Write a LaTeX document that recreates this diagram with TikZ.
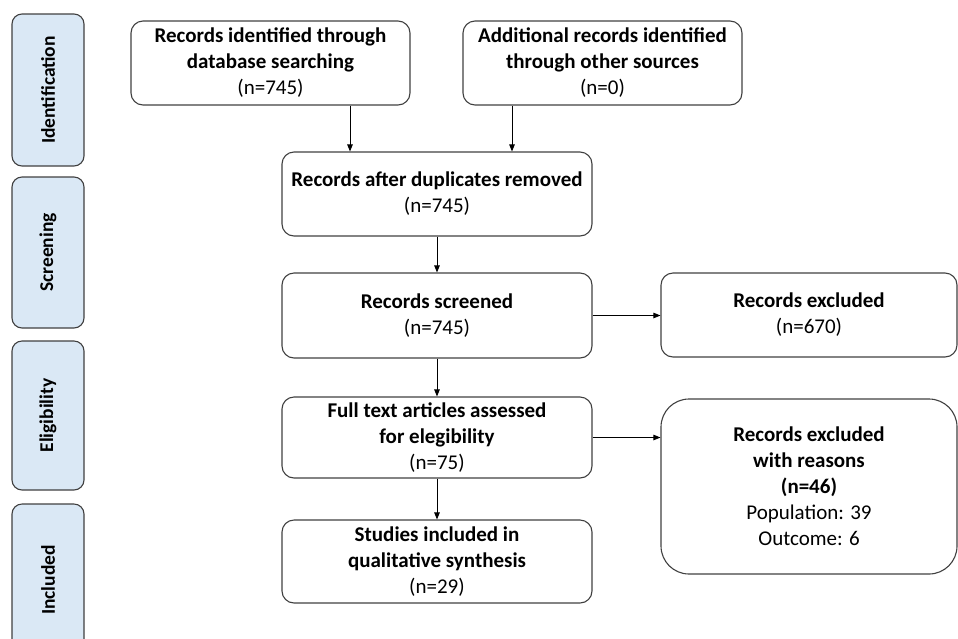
\documentclass[tikz,border=0pt]{standalone}
\usepackage{fontspec}
\setmainfont{Carlito}
\usetikzlibrary{arrows.meta}
\definecolor{stagefill}{HTML}{DAE8F5}
\definecolor{edgegray}{HTML}{404040}

\begin{document}
\begin{tikzpicture}[x=1pt,y=-1pt,
    box/.style={draw=edgegray, line width=1.1pt, rounded corners=12pt, align=center, inner sep=0pt,
        font=\fontsize{21}{26}\selectfont},
    stage/.style={draw=edgegray, line width=1.1pt, fill=stagefill, rounded corners=10pt, rotate=90,
        minimum height=72pt, inner sep=0pt, font=\fontsize{19.5}{23}\selectfont\bfseries},
    arr/.style={-{Triangle[length=7pt,width=5.5pt]}, line width=0.9pt}]
    \useasboundingbox (0,0) rectangle (958,638);
    \clip (0,0) rectangle (958,638);

    %stages
    \node[stage, minimum width=152pt] (ident) at (48,90) {Identification};
    \node[stage, minimum width=151pt] (screen) at (48,252.5) {Screening};
    \node[stage, minimum width=149pt] (elig) at (48,415.5) {Eligibility};
    \node[stage, minimum width=152pt] (incl) at (48,580) {Included};

    %boxes
    \node[box, minimum width=279pt, minimum height=84pt] (dbase) at (270.5,63)
        {\textbf{Records identified through}\\\textbf{database searching}\\(n=745)};
    \node[box, minimum width=279pt, minimum height=84pt] (other) at (602.5,63)
        {\textbf{Additional records identified}\\\textbf{through other sources}\\(n=0)};
    \node[box, minimum width=310pt, minimum height=84pt] (dupl) at (437,194)
        {\textbf{Records after duplicates removed}\\(n=745)};
    \node[box, minimum width=310pt, minimum height=85pt] (screened) at (437,315.5)
        {\textbf{Records screened}\\(n=745)};
    \node[box, minimum width=296pt, minimum height=84pt] (excl) at (809,315)
        {\textbf{Records excluded}\\(n=670)};
    \node[box, minimum width=310pt, minimum height=81pt] (fulltext) at (437,437.5)
        {\textbf{Full text articles assessed}\\\textbf{for elegibility}\\(n=75)};
    \node[box, rounded corners=28pt, minimum width=296pt, minimum height=175pt] (reasons) at (809,486.5)
        {\textbf{Records excluded}\\\textbf{with reasons}\\\textbf{(n=46)}\\Population: 39\\Outcome: 6};
    \node[box, minimum width=310pt, minimum height=83pt] (studies) at (437,561.5)
        {\textbf{Studies included in}\\\textbf{qualitative synthesis}\\(n=29)};

    %arrows
    \draw[arr] ([xshift=-87pt]dupl.north |- dbase.south) -- ([xshift=-87pt]dupl.north);
    \draw[arr] ([xshift=75pt]dupl.north |- other.south) -- ([xshift=75pt]dupl.north);
    \draw[arr] (dupl) -- (screened);
    \draw[arr] (screened) -- (fulltext);
    \draw[arr] (fulltext) -- (studies);
    \draw[arr] (screened.east) -- (screened.east -| excl.west);
    \draw[arr] (fulltext.east) -- (fulltext.east -| reasons.west);
\end{tikzpicture}
\end{document}
